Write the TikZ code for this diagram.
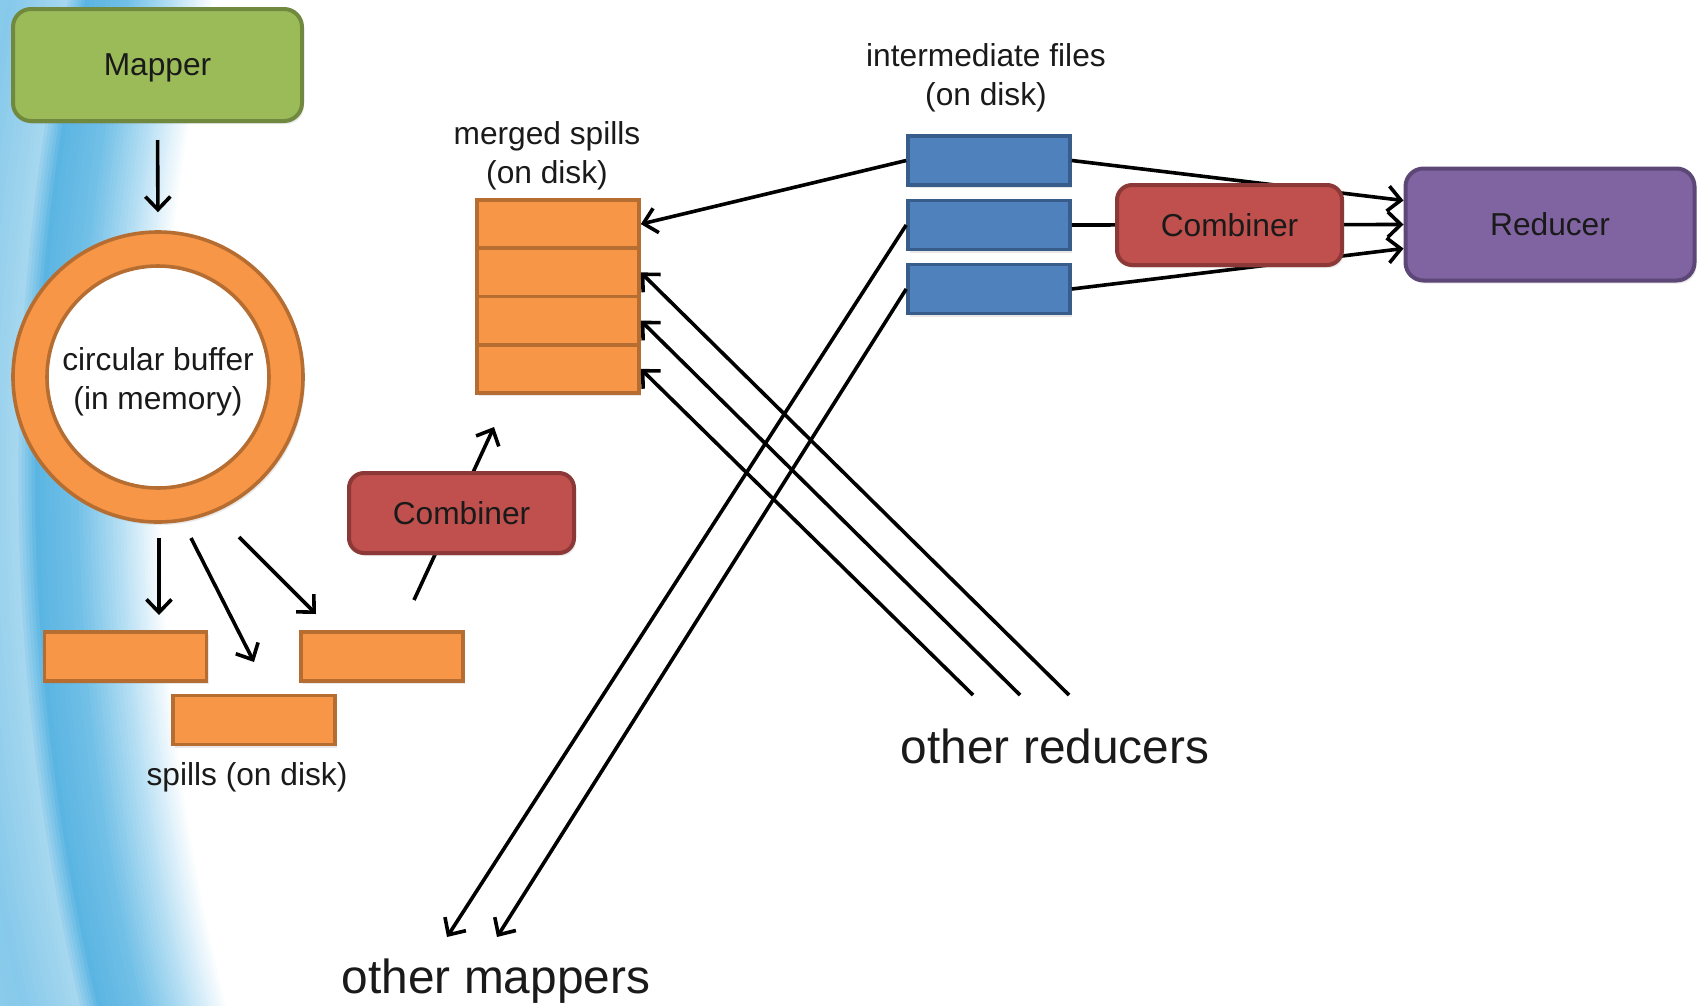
\documentclass[tikz,border=0pt]{standalone}
\usepackage{fontspec}
\setmainfont{Liberation Sans}
\usetikzlibrary{arrows.meta,calc,shadows}

\definecolor{mapfill}{HTML}{9BBB59}
\definecolor{mapdraw}{HTML}{71893F}
\definecolor{orfill}{HTML}{F79646}
\definecolor{ordraw}{HTML}{B66D31}
\definecolor{cbfill}{HTML}{C0504D}
\definecolor{cbdraw}{HTML}{8C3836}
\definecolor{blfill}{HTML}{4F81BD}
\definecolor{bldraw}{HTML}{385D8A}
\definecolor{rdfill}{HTML}{8064A2}
\definecolor{rddraw}{HTML}{5C4776}
\definecolor{txt}{HTML}{1A1A1A}
\definecolor{bgA}{HTML}{5BB5E2}
\definecolor{bgG}{HTML}{72C0E7}
\definecolor{bgB}{HTML}{A6D7EF}
\definecolor{bgC}{HTML}{86C9EA}
\definecolor{bgD}{HTML}{95D0ED}
\definecolor{bgF}{HTML}{B8E0F4}

% one band of the background: filled discs from radius #1 down to #2,
% colour going from #3 to #4 in #5 steps
\newcommand\bgringband[5]{%
  \foreach \ii in {0,...,\numexpr#5-1\relax}{%
    \pgfmathsetmacro\rrad{#1-\ii*(#1-#2)/#5}%
    \pgfmathtruncatemacro\tpct{100-100*\ii/#5}%
    \fill[color=#3!\tpct!#4] (2300,476) circle (\rrad pt);
  }%
}

\tikzset{
  lbl/.style={font=\fontsize{31.7}{38.5}\selectfont, text=txt, align=center, inner sep=0pt},
  biglbl/.style={font=\fontsize{47.8}{56}\selectfont, text=txt, inner sep=0pt},
  shad/.style={drop shadow={opacity=0.18, shadow xshift=2pt, shadow yshift=-3pt}},
  bigbox/.style={shad, rounded corners=18pt, minimum width=289pt, minimum height=112pt,
    line width=4pt, font=\fontsize{31.7}{38}\selectfont, text=txt, inner sep=0pt,
    text depth=0pt},
  combbox/.style={shad, draw=cbdraw, fill=cbfill, rounded corners=15pt, minimum width=225pt,
    minimum height=80pt, line width=4pt, font=\fontsize{31.7}{38}\selectfont, text=txt, inner sep=0pt},
  orbox/.style={draw=ordraw, fill=orfill, line width=3.6pt, minimum width=162pt,
    minimum height=49pt, inner sep=0pt},
  blbox/.style={draw=bldraw, fill=blfill, line width=3.6pt, minimum width=162pt,
    minimum height=49pt, inner sep=0pt},
  arr/.style={line width=3.6pt, draw=black, -{Straight Barb[length=13pt,width=25pt]}},
}

\begin{document}
\begin{tikzpicture}[x=1pt,y=-1pt]
\useasboundingbox (0,0) rectangle (1704,1005);
\fill[white] (0,0) rectangle (1704,1005);
\begin{scope}
  \clip (0,0) rectangle (1704,1005);
  \bgringband{2400}{2340}{bgD}{bgC}{10}
  \bgringband{2340}{2285}{bgC}{bgB}{12}
  \bgringband{2285}{2265}{bgB}{bgA}{6}
  \bgringband{2265}{2225}{bgA}{bgG}{8}
  \bgringband{2225}{2180}{bgG}{bgF}{12}
  \bgringband{2180}{2140}{bgF}{white}{14}
  \fill[white] (2300,476) circle (2140pt);
\end{scope}

% Mapper and circular buffer
\node[bigbox, draw=mapdraw, fill=mapfill] (mapper) at (157.5,65) {Mapper};
\node[shad, circle, draw=ordraw, fill=orfill, line width=3.6pt, minimum size=290pt, inner sep=0pt] (buf) at (158,377) {};
\node[circle, draw=ordraw, fill=white, line width=3.6pt, minimum size=222pt, inner sep=0pt] (bufin) at (buf.center) {};
\node[lbl] (buftxt) at (158,382) {circular buffer\\(in memory)};
\draw[arr, shorten <=17pt, shorten >=18pt] (mapper.south) -- (buf.north);

% spills
\node[orbox, shad] (s1) at (125.5,656.5) {};
\node[orbox, shad] (s3) at (382,656.5) {};
\node[orbox, shad] (s2) at (254,720) {};
\node[lbl] (spilllbl) at (247,777) {spills (on disk)};

\coordinate (a1s) at (159,538);
\coordinate (a1e) at (159,615);
\coordinate (a2s) at (191,538);
\coordinate (a2e) at (254,662);
\coordinate (a3s) at (239,537);
\coordinate (a3e) at (316,614);
\draw[arr] (a1s) -- (a1e);
\draw[arr] (a2s) -- (a2e);
\draw[arr] (a3s) -- (a3e);

% merged spills
\node[orbox, shad, minimum height=193pt] (mall) at (558,296.5) {};
\node[orbox, minimum height=48.25pt] (m1) at (558,224.1) {};
\node[orbox, minimum height=48.25pt] (m2) at (558,272.4) {};
\node[orbox, minimum height=48.25pt] (m3) at (558,320.6) {};
\node[orbox, minimum height=48.25pt] (m4) at (558,368.9) {};
\node[lbl] (mlbl) at (547,156) {merged spills\\(on disk)};

% left combiner
\coordinate (c1s) at (414,600);
\coordinate (c1e) at (494,427);
\draw[arr] (c1s) -- (c1e);
\node[combbox] (cmb1) at (461.5,513) {Combiner};

% intermediate files
\node[blbox, shad] (b1) at (989,160.5) {};
\node[blbox, shad] (b2) at (989,225) {};
\node[blbox, shad] (b3) at (989,289) {};
\node[lbl] (ilbl) at (986,78) {intermediate files\\(on disk)};

% reducer
\node[bigbox, draw=rddraw, fill=rdfill] (red) at (1550,224.5) {Reducer};
\draw[arr] (b1.east) -- ($(red.west)+(0,-24)$);
\draw[arr] (b2.east) -- (red.west);
\draw[arr] (b3.east) -- ($(red.west)+(0,24)$);
\node[combbox] (cmb2) at (1229.5,225) {Combiner};

% to merged spills
\draw[arr] (b1.west) -- (m1.east);
\coordinate (r1) at (1069,695);
\coordinate (r2) at (1020,695);
\coordinate (r3) at (973,695);
\draw[arr] (r1) -- (m2.east);
\draw[arr] (r2) -- (m3.east);
\draw[arr] (r3) -- (m4.east);

% to other mappers
\coordinate (om1) at (447,937);
\coordinate (om2) at (497,937);
\draw[arr] (b2.west) -- (om1);
\draw[arr] (b3.west) -- (om2);

\node[biglbl] (orl) at (1055,746) {other reducers};
\node[biglbl] (oml) at (496,981) {other mappers};
\end{tikzpicture}
\end{document}
